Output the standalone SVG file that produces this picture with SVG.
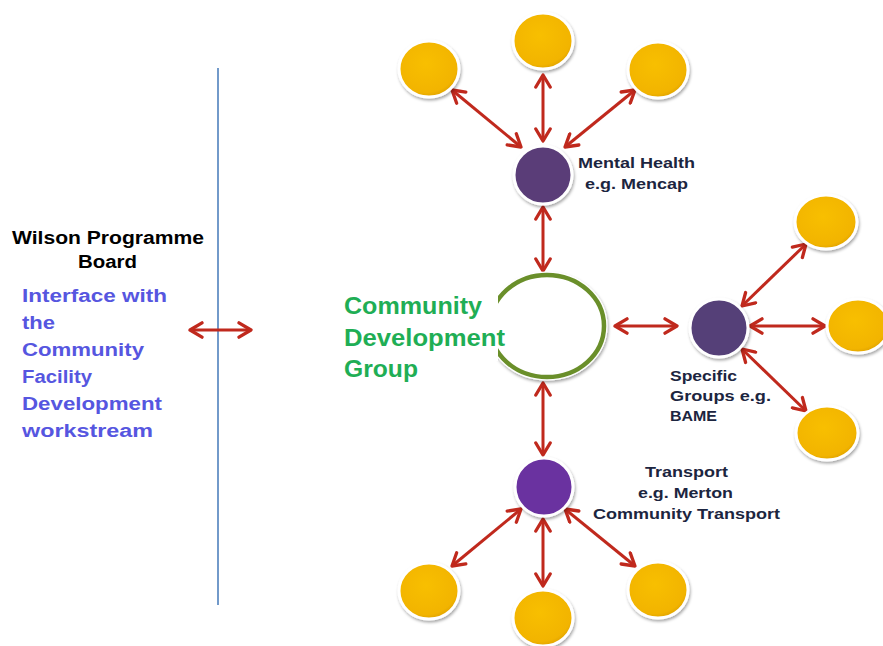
<svg xmlns="http://www.w3.org/2000/svg" width="883" height="646" viewBox="0 0 883 646">
  <defs>
    <filter id="shadow" x="-30%" y="-30%" width="160%" height="160%">
      <feDropShadow dx="1" dy="2" stdDeviation="1.6" flood-color="#000" flood-opacity="0.35"/>
    </filter>
    <radialGradient id="gold" cx="45%" cy="40%" r="65%">
      <stop offset="0" stop-color="#f8bf00"/>
      <stop offset="0.8" stop-color="#f2b400"/>
      <stop offset="1" stop-color="#d69a00"/>
    </radialGradient>
    <marker id="head" viewBox="0 0 12 12" refX="10" refY="6" markerWidth="6" markerHeight="6" orient="auto-start-reverse" markerUnits="strokeWidth">
      <path d="M2,1.2 L10,6 L2,10.8" fill="none" stroke="#c0291d" stroke-width="2.2" stroke-linecap="round" stroke-linejoin="round"/>
    </marker>
  </defs>
  <style>
    .leaf { fill: url(#gold); stroke: #fff; stroke-width: 3; filter: url(#shadow); }
    .hub { stroke: #fff; stroke-width: 3; filter: url(#shadow); }
    .link { stroke: #c0291d; stroke-width: 3; fill: none; marker-start: url(#head); marker-end: url(#head); }
    text { font-family: "Liberation Sans", Arial, sans-serif; font-weight: bold; }
    .lbl { font-size: 15px; fill: #1c2540; }
    .board { font-size: 18px; fill: #000; }
    .blue { font-size: 18px; fill: #5656e0; }
    .green { font-size: 24px; fill: #1fae55; }
  </style>

  <rect width="883" height="646" fill="#fff"/>

  <!-- divider -->
  <line x1="218" y1="68" x2="218" y2="605" stroke="#4f81bd" stroke-width="1.6"/>

  <!-- connectors -->
  <g id="connectors">
    <line class="link" x1="190" y1="330" x2="251" y2="330"/>
    <line class="link" x1="543" y1="75" x2="543" y2="141"/>
    <line class="link" x1="452" y1="90" x2="521" y2="147"/>
    <line class="link" x1="635" y1="90" x2="565" y2="147"/>
    <line class="link" x1="543" y1="207" x2="543" y2="271"/>
    <line class="link" x1="543" y1="383" x2="543" y2="455"/>
    <line class="link" x1="615" y1="326" x2="677" y2="326"/>
    <line class="link" x1="742" y1="306" x2="806" y2="244"/>
    <line class="link" x1="750" y1="326" x2="825" y2="326"/>
    <line class="link" x1="742" y1="349" x2="806" y2="411"/>
    <line class="link" x1="521" y1="509" x2="452" y2="566"/>
    <line class="link" x1="543" y1="519" x2="543" y2="586"/>
    <line class="link" x1="565" y1="509" x2="635" y2="566"/>
  </g>

  <!-- left panel -->
  <g id="board">
    <text class="board" x="12" y="244" textLength="192" lengthAdjust="spacingAndGlyphs">Wilson Programme</text>
    <text class="board" x="78" y="268" textLength="59" lengthAdjust="spacingAndGlyphs">Board</text>
    <text class="blue" x="22" y="302" textLength="145" lengthAdjust="spacingAndGlyphs">Interface with</text>
    <text class="blue" x="22" y="329" textLength="33" lengthAdjust="spacingAndGlyphs">the</text>
    <text class="blue" x="22" y="356" textLength="122" lengthAdjust="spacingAndGlyphs">Community</text>
    <text class="blue" x="22" y="383" textLength="70" lengthAdjust="spacingAndGlyphs">Facility</text>
    <text class="blue" x="22" y="410" textLength="140" lengthAdjust="spacingAndGlyphs">Development</text>
    <text class="blue" x="22" y="437" textLength="131" lengthAdjust="spacingAndGlyphs">workstream</text>
  </g>

  <!-- central group -->
  <g id="central">
    <ellipse cx="547" cy="326" rx="57" ry="51" fill="#fff" stroke="#fff" stroke-width="7" filter="url(#shadow)"/>
    <ellipse cx="547" cy="326" rx="57" ry="51" fill="none" stroke="#6a8f2a" stroke-width="4.5"/>
    <rect x="340" y="293" width="158" height="68" fill="#fff"/>
    <text class="green" x="344" y="314" textLength="138" lengthAdjust="spacingAndGlyphs">Community</text>
    <text class="green" x="344" y="346" textLength="161" lengthAdjust="spacingAndGlyphs">Development</text>
    <text class="green" x="344" y="377" textLength="74" lengthAdjust="spacingAndGlyphs">Group</text>
  </g>

  <!-- mental health branch -->
  <g id="mental-health">
    <circle class="hub" cx="543" cy="175" r="29" fill="#5a3e78"/>
    <text class="lbl" x="578" y="168" textLength="117" lengthAdjust="spacingAndGlyphs">Mental Health</text>
    <text class="lbl" x="585" y="189" textLength="103" lengthAdjust="spacingAndGlyphs">e.g. Mencap</text>
  </g>
  <g id="mh-leaf-1"><ellipse class="leaf" cx="429" cy="69" rx="30" ry="28"/></g>
  <g id="mh-leaf-2"><ellipse class="leaf" cx="543" cy="41" rx="30" ry="28"/></g>
  <g id="mh-leaf-3"><ellipse class="leaf" cx="658" cy="70" rx="30" ry="28"/></g>

  <!-- specific groups branch -->
  <g id="specific-groups">
    <circle class="hub" cx="719" cy="328" r="29" fill="#553f78"/>
    <text class="lbl" x="670" y="381" textLength="67" lengthAdjust="spacingAndGlyphs">Specific</text>
    <text class="lbl" x="670" y="401" textLength="101" lengthAdjust="spacingAndGlyphs">Groups e.g.</text>
    <text class="lbl" x="670" y="421" textLength="47" lengthAdjust="spacingAndGlyphs">BAME</text>
  </g>
  <g id="sg-leaf-1"><ellipse class="leaf" cx="826" cy="222" rx="31" ry="27"/></g>
  <g id="sg-leaf-2"><ellipse class="leaf" cx="858" cy="326" rx="31" ry="27"/></g>
  <g id="sg-leaf-3"><ellipse class="leaf" cx="827" cy="433" rx="31" ry="27"/></g>

  <!-- transport branch -->
  <g id="transport">
    <circle class="hub" cx="544" cy="487" r="29" fill="#6b30a0"/>
    <text class="lbl" x="645" y="477" textLength="83" lengthAdjust="spacingAndGlyphs">Transport</text>
    <text class="lbl" x="638" y="498" textLength="95" lengthAdjust="spacingAndGlyphs">e.g. Merton</text>
    <text class="lbl" x="593" y="519" textLength="187" lengthAdjust="spacingAndGlyphs">Community Transport</text>
  </g>
  <g id="tr-leaf-1"><ellipse class="leaf" cx="429" cy="591" rx="30" ry="28"/></g>
  <g id="tr-leaf-2"><ellipse class="leaf" cx="543" cy="618" rx="30" ry="28"/></g>
  <g id="tr-leaf-3"><ellipse class="leaf" cx="658" cy="590" rx="30" ry="28"/></g>
</svg>
